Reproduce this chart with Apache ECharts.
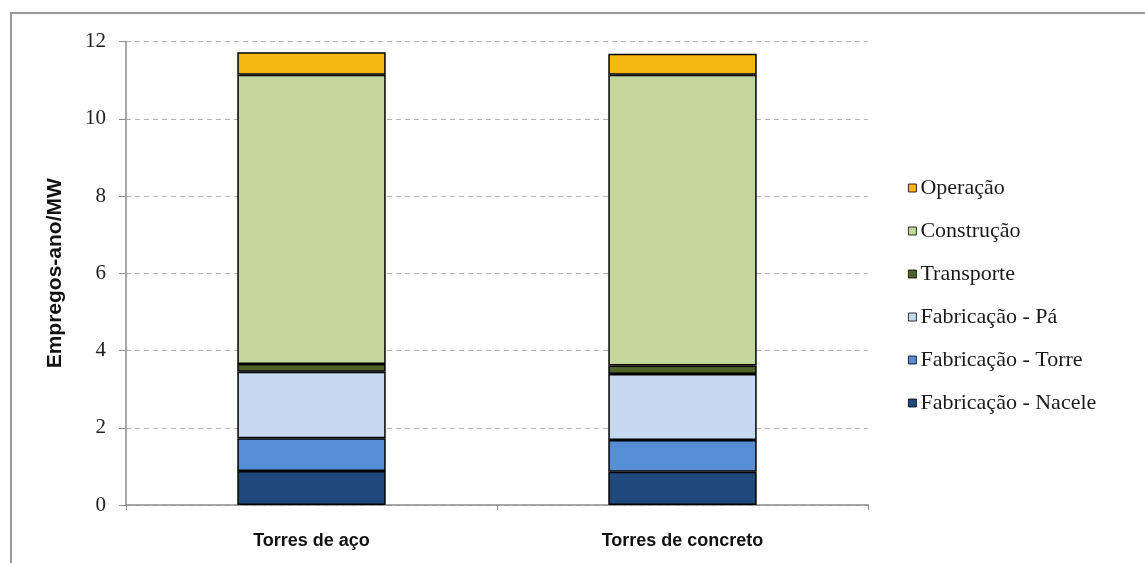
<!DOCTYPE html>
<html>
<head>
<meta charset="utf-8">
<script src="https://cdn.jsdelivr.net/npm/echarts@6/dist/echarts.min.js"></script>
<style>
  html, body { margin: 0; padding: 0; background: #ffffff; }
  #chart { width: 1145px; height: 563px; }
</style>
</head>
<body>
<div id="chart"></div>
<script>
// Stacked employment (job-years per MW) by tower type
const categories = ['Torres de aço', 'Torres de concreto'];

const nacele     = [0.88, 0.86];
const torre      = [0.85, 0.82];
const pa         = [1.72, 1.71];
const transporte = [0.20, 0.22];
const construcao = [7.49, 7.53];
const operacao   = [0.58, 0.54];

const yTicks = [0, 2, 4, 6, 8, 10, 12];

const seriesDefs = [
  { name: 'Fabricação - Nacele', data: nacele,     color: '#1F497D' },
  { name: 'Fabricação - Torre',  data: torre,      color: '#558ED5' },
  { name: 'Fabricação - Pá',     data: pa,         color: '#C6D9F1' },
  { name: 'Transporte',          data: transporte, color: '#4F6228' },
  { name: 'Construção',          data: construcao, color: '#C4D79B' },
  { name: 'Operação',            data: operacao,   color: '#F6B913' }
];

const chart = echarts.init(document.getElementById('chart'), null, { renderer: 'canvas' });

const serif = '"Liberation Serif", "Times New Roman", serif';
const sans = '"Liberation Sans", Arial, sans-serif';

chart.setOption({
  animation: false,
  backgroundColor: '#ffffff',
  graphic: [{
    type: 'rect',
    shape: { x: 11, y: 13, width: 1150, height: 570 },
    style: { fill: 'none', stroke: '#9a9a9a', lineWidth: 2 },
    silent: true
  }],
  grid: { left: 126, right: 277, top: 41.5, bottom: 58, containLabel: false },
  legend: {
    orient: 'vertical',
    left: 903,
    top: 172,
    itemWidth: 8,
    itemHeight: 8,
    itemGap: 21,
    icon: 'rect',
    data: seriesDefs.map(s => s.name).reverse(),
    textStyle: { fontFamily: serif, fontSize: 22, color: '#1a1a1a', lineHeight: 22, padding: [0, 0, 0, -1] },
    itemStyle: { borderColor: '#000', borderWidth: 0.8 }
  },
  xAxis: {
    type: 'category',
    data: categories,
    axisLine: { lineStyle: { color: '#8c8c8c', width: 1.5 } },
    axisTick: { show: true, length: 5, lineStyle: { color: '#8c8c8c' } },
    axisLabel: { fontFamily: sans, fontWeight: 'bold', fontSize: 18, color: '#111', margin: 27 }
  },
  yAxis: {
    type: 'value',
    min: yTicks[0],
    max: yTicks[yTicks.length - 1],
    interval: 2,
    name: 'Empregos-ano/MW',
    nameLocation: 'middle',
    nameGap: 60,
    nameTextStyle: { fontFamily: sans, fontWeight: 'bold', fontSize: 21, color: '#111' },
    axisLine: { show: true, lineStyle: { color: '#8c8c8c', width: 1.5 } },
    axisTick: { show: true, length: 7, lineStyle: { color: '#8c8c8c' } },
    axisLabel: { fontFamily: serif, fontSize: 21, color: '#222', margin: 20 },
    splitLine: { show: true, lineStyle: { color: '#b5b5b5', type: [5, 4], width: 1 } }
  },
  series: seriesDefs.map(s => ({
    name: s.name,
    type: 'bar',
    stack: 'total',
    data: s.data,
    barWidth: '40%',
    itemStyle: { color: s.color, borderColor: '#000', borderWidth: 1.5 },
    emphasis: { disabled: true }
  }))
});
</script>
</body>
</html>
